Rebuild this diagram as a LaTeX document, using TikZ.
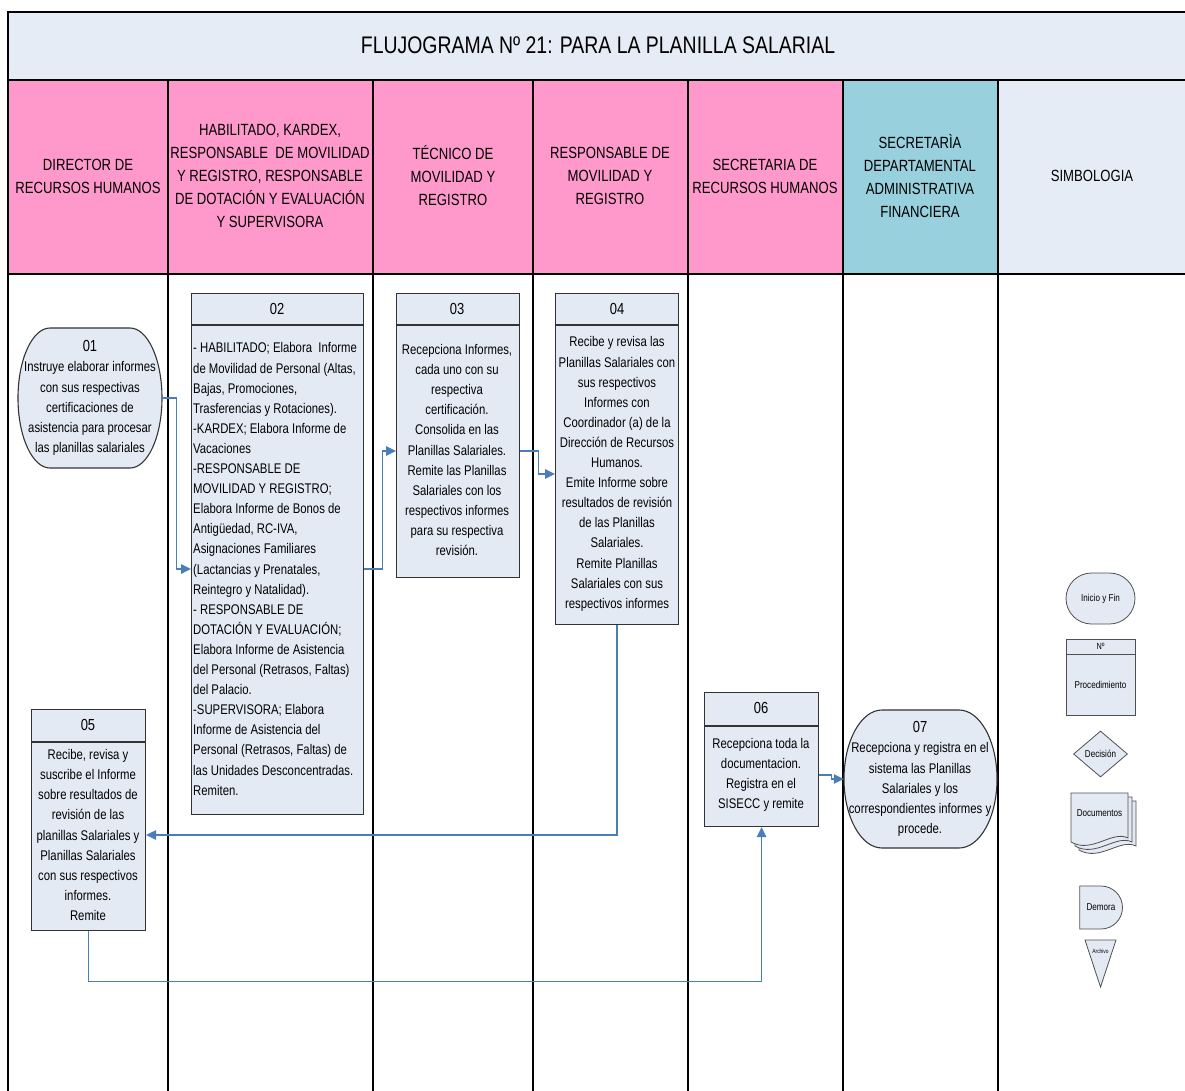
\documentclass[tikz,border=0pt]{standalone}
\usepackage{fontspec}
\setmainfont{Liberation Sans}[FakeStretch=0.81]
\usetikzlibrary{arrows.meta,shapes.misc,shapes.geometric}

\definecolor{boxfill}{HTML}{E4EAF4}
\definecolor{titlefill}{HTML}{E6ECF6}
\definecolor{lanepink}{HTML}{FF99CC}
\definecolor{laneteal}{HTML}{99D0DD}
\definecolor{flowblue}{HTML}{4A7EBB}
\definecolor{edge}{HTML}{333333}
\definecolor{leggray}{HTML}{505050}

\newcommand\titlesize{\fontsize{24}{28}\selectfont}
\newcommand\headsize{\fontsize{16.2}{23}\selectfont}
\newcommand\bodysize{\fontsize{14}{20.1}\selectfont}
\newcommand\numsize{\fontsize{16}{20}\selectfont}
\newcommand\legsize{\fontsize{10}{12}\selectfont}

% terminator outline with elliptical ends: centre x, centre y, half width, half height, end radius
\newcommand\termoutline[5]{%
  \draw[draw=edge, fill=boxfill, line width=1.1pt]
    ({#1-#3+#5},{#2-#4}) -- ({#1+#3-#5},{#2-#4})
    .. controls ({#1+#3-#5+0.5523*#5},{#2-#4}) and ({#1+#3},{#2-0.5523*#4}) .. ({#1+#3},{#2})
    .. controls ({#1+#3},{#2+0.5523*#4}) and ({#1+#3-#5+0.5523*#5},{#2+#4}) .. ({#1+#3-#5},{#2+#4})
    -- ({#1-#3+#5},{#2+#4})
    .. controls ({#1-#3+#5-0.5523*#5},{#2+#4}) and ({#1-#3},{#2+0.5523*#4}) .. ({#1-#3},{#2})
    .. controls ({#1-#3},{#2-0.5523*#4}) and ({#1-#3+#5-0.5523*#5},{#2-#4}) .. cycle;}

\tikzset{
  lane/.style={line width=1.5pt, draw=black},
  procbox/.style={draw=edge, fill=boxfill, line width=1.1pt, inner sep=0pt, anchor=north west},
  termbox/.style={inner sep=0pt},
  bodytext/.style={font=\bodysize, inner sep=0pt, align=center},
  numtext/.style={font=\numsize, inner sep=0pt},
  headtext/.style={font=\headsize, align=center, inner sep=0pt},
  flow/.style={draw=flowblue, line width=1.2pt, -{Triangle[length=10pt,width=9.5pt]}},
  legshape/.style={draw=leggray, fill=boxfill, line width=0.8pt, inner sep=0pt, font=\legsize},
}

\begin{document}
\begin{tikzpicture}[x=1pt, y=-1pt]
\useasboundingbox (0,0) rectangle (1185,1091);
\clip (0,0) rectangle (1185,1091);

% title band
\draw[lane, fill=titlefill] (8,12) rectangle (1195,80);
\node[font=\titlesize, inner sep=0pt] (title) at (598,45) {FLUJOGRAMA Nº 21: PARA LA PLANILLA SALARIAL};

% lane headers
\fill[lanepink] (8,80) rectangle (843,274);
\fill[laneteal] (843,80) rectangle (998,274);
\fill[titlefill] (998,80) rectangle (1195,274);
\draw[lane] (8,80) -- (1195,80);
\draw[lane] (8,274) -- (1195,274);
\foreach \lx in {8,168,373,533,688,843,998}
  \draw[lane] (\lx,80) -- (\lx,1095);

\node[headtext] (h1) at (88,176) {DIRECTOR DE\\RECURSOS HUMANOS};
\node[headtext] (h2) at (270,176) {HABILITADO, KARDEX,\\RESPONSABLE\ \ DE MOVILIDAD\\Y REGISTRO, RESPONSABLE\\DE DOTACIÓN Y EVALUACIÓN\\Y SUPERVISORA};
\node[headtext] (h3) at (453,176) {TÉCNICO DE\\MOVILIDAD Y\\REGISTRO};
\node[headtext] (h4) at (610,176) {RESPONSABLE DE\\MOVILIDAD Y\\REGISTRO};
\node[headtext] (h5) at (765,176) {SECRETARIA DE\\RECURSOS HUMANOS};
\node[headtext] (h6) at (920,176) {SECRETARÌA\\DEPARTAMENTAL\\ADMINISTRATIVA\\FINANCIERA};
\node[headtext] (h7) at (1092,176) {SIMBOLOGIA};

% 01 start
\termoutline{90}{398}{72}{70}{32}
\node[termbox, minimum width=144pt, minimum height=140pt] (n01) at (90,398) {};
\node[bodytext] (t01) at (90,398) {{\numsize 01}\\Instruye elaborar informes\\con sus respectivas\\certificaciones de\\asistencia para procesar\\las planillas salariales};

% 02
\node[procbox, minimum width=172pt, minimum height=521pt] (n02) at (191,293) {};
\draw[draw=edge, line width=1.1pt] (191,325) -- (363,325);
\node[numtext] (h02) at (277,309) {02};
\node[bodytext, align=left, anchor=west] (t02) at (193,569) {- HABILITADO; Elabora\ \ Informe\\de Movilidad de Personal (Altas,\\Bajas, Promociones,\\Trasferencias y Rotaciones).\\-KARDEX; Elabora Informe de\\Vacaciones\\-RESPONSABLE DE\\MOVILIDAD Y REGISTRO;\\Elabora Informe de Bonos de\\Antigüedad, RC-IVA,\\Asignaciones Familiares\\(Lactancias y Prenatales,\\Reintegro y Natalidad).\\- RESPONSABLE DE\\DOTACIÓN Y EVALUACIÓN;\\Elabora Informe de Asistencia\\del Personal (Retrasos, Faltas)\\del Palacio.\\-SUPERVISORA; Elabora\\Informe de Asistencia del\\Personal (Retrasos, Faltas) de\\las Unidades Desconcentradas.\\Remiten.};

% 03
\node[procbox, minimum width=123pt, minimum height=284pt] (n03) at (396,293) {};
\draw[draw=edge, line width=1.1pt] (396,325) -- (519,325);
\node[numtext] (h03) at (457,309) {03};
\node[bodytext] (t03) at (457,450) {Recepciona Informes,\\cada uno con su\\respectiva\\certificación.\\Consolida en las\\Planillas Salariales.\\Remite las Planillas\\Salariales con los\\respectivos informes\\para su respectiva\\revisión.};

% 04
\node[procbox, minimum width=123pt, minimum height=331pt] (n04) at (555,293) {};
\draw[draw=edge, line width=1.1pt] (555,325) -- (678,325);
\node[numtext] (h04) at (617,309) {04};
\node[bodytext] (t04) at (617,474) {Recibe y revisa las\\Planillas Salariales con\\sus respectivos\\Informes con\\Coordinador (a) de la\\Dirección de Recursos\\Humanos.\\Emite Informe sobre\\resultados de revisión\\de las Planillas\\Salariales.\\Remite Planillas\\Salariales con sus\\respectivos informes};

% 05
\node[procbox, minimum width=114pt, minimum height=221pt] (n05) at (31,709) {};
\draw[draw=edge, line width=1.1pt] (31,742) -- (145,742);
\node[numtext] (h05) at (88,725) {05};
\node[bodytext] (t05) at (88,835) {Recibe, revisa y\\suscribe el Informe\\sobre resultados de\\revisión de las\\planillas Salariales y\\Planillas Salariales\\con sus respectivos\\informes.\\Remite};

% 06
\node[procbox, minimum width=114pt, minimum height=134pt] (n06) at (704,692) {};
\draw[draw=edge, line width=1.1pt] (704,726) -- (818,726);
\node[numtext] (h06) at (761,708) {06};
\node[bodytext] (t06) at (761,775) {Recepciona toda la\\documentacion.\\Registra en el\\SISECC y remite};

% 07 end
\termoutline{920.5}{779}{76.5}{69}{38}
\node[termbox, minimum width=153pt, minimum height=138pt] (n07) at (920.5,779) {};
\node[bodytext] (t07) at (920,779) {{\numsize 07}\\Recepciona y registra en el\\sistema las Planillas\\Salariales y los\\correspondientes informes y\\procede.};

% connectors
\draw[flow] (n01.east) -- ++(14,0) |- (n02.west |- t02.center);
\draw[flow] (n02.east |- t02.center) -- ++(18,0) |- (n03.west |- 0,451);
\draw[flow] (n03.east |- 0,451) -- ++(18,0) |- (n04.west |- t04.center);
\draw[flow] (n04.south) |- (n05.east |- t05.center);
\draw[flow] (n05.south) -- ++(0,50) -| (n06.south);
\draw[flow] (n06.east |- t06.center) -- ++(12,0) |- (n07.west);

% legend
\node[legshape, rounded rectangle, minimum width=69pt, minimum height=51pt] (lgstart) at (1100.5,598.5) {Inicio y Fin};
\node[legshape, rectangle, minimum width=69pt, minimum height=76pt, anchor=north west] (lgproc) at (1066,639) {};
\draw[draw=leggray, line width=0.8pt] (1066,654) -- (1135,654);
\node[font=\fontsize{9}{10}\selectfont, inner sep=0pt] (lgnum) at (1100.5,646.5) {Nº};
\node[font=\legsize, inner sep=0pt] (lgproctxt) at (1100.5,685) {Procedimiento};
\node[legshape, diamond, minimum width=54pt, minimum height=46pt] (lgdec) at (1100.5,754) {Decisión};
\foreach \d in {8,4,0}
  \draw[draw=leggray, fill=boxfill, line width=0.8pt]
    (1071+\d,793+\d) -- (1128+\d,793+\d) -- (1128+\d,838+\d)
    .. controls (1112+\d,830+\d) and (1092+\d,854+\d) .. (1071+\d,842+\d) -- cycle;
\node[font=\legsize, inner sep=0pt] (lgdoc) at (1099.5,813) {Documentos};
\node[legshape, rounded rectangle, rounded rectangle left arc=none, minimum width=38pt, minimum height=43pt] (lgdelay) at (1101,907.5) {Demora};
\draw[draw=leggray, fill=boxfill, line width=0.8pt] (1085,940) -- (1116,940) -- (1100.5,987) -- cycle;
\node[font=\fontsize{6}{7}\selectfont, inner sep=0pt] (lgarch) at (1100.5,951) {Archivo};

\end{tikzpicture}
\end{document}
